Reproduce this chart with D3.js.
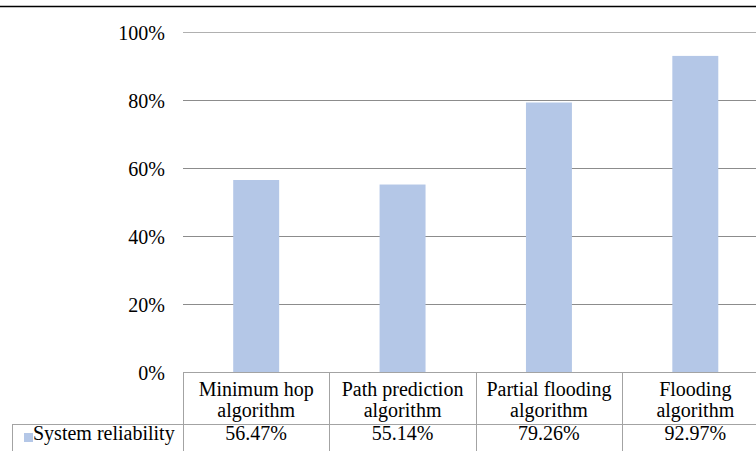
<!DOCTYPE html>
<html>
<head>
<meta charset="utf-8">
<script src="https://cdn.jsdelivr.net/npm/d3@7"></script>
<style>
  html, body { margin: 0; padding: 0; background: #fff; }
  svg { display: block; }
  svg text { font-family: 'Liberation Serif', Tinos, 'Times New Roman', Times, 'DejaVu Serif', serif !important; fill: #000; }
</style>
</head>
<body>
<script>
// Reliability of each routing algorithm
const categories = [
  ["Minimum hop", "algorithm"],
  ["Path prediction", "algorithm"],
  ["Partial flooding", "algorithm"],
  ["Flooding", "algorithm"]
];
const seriesName = "System reliability";
const reliability = [56.47, 55.14, 79.26, 92.97];
const valueLabels = ["56.47%", "55.14%", "79.26%", "92.97%"];
const yTicks = [0, 20, 40, 60, 80, 100];

const W = 756, H = 451;
const plot = { left: 183, right: 768.5, top: 32, bottom: 372 };
const rowSplit = 424;
const barColor = "#b4c7e7";
const FONT = "'Liberation Serif', Tinos, 'Times New Roman', Times, serif";
const FS = 20;

const svg = d3.select("body").append("svg")
  .attr("width", W).attr("height", H)
  .style("font-family", FONT);

const keys = categories.map((c, i) => i);
const pad = 0.686;
const x = d3.scaleBand()
  .domain(keys)
  .range([plot.left, plot.right])
  .paddingInner(pad)
  .paddingOuter(pad / 2);
const step = x.step();

const y = d3.scaleLinear().domain([0, 100]).range([plot.bottom, plot.top]);

// top rule
svg.append("line")
  .attr("x1", 0).attr("x2", W)
  .attr("y1", 6.5).attr("y2", 6.5)
  .attr("stroke", "#000").attr("stroke-width", 1.5);

// gridlines and y labels via an axis
const yAxis = d3.axisLeft(y)
  .tickValues(yTicks)
  .tickFormat(d => d + "%")
  .tickSize(-(plot.right - plot.left))
  .tickPadding(18);

const gy = svg.append("g")
  .attr("transform", `translate(${plot.left},0)`)
  .call(yAxis)
  .attr("font-family", FONT)
  .attr("font-size", FS);
gy.select(".domain").remove();
gy.selectAll(".tick line")
  .attr("stroke", d => d === 100 ? "#b0b0b0" : "#8c8c8c")
  .attr("stroke-width", d => d === 100 ? 1.5 : 1)
  .attr("shape-rendering", "crispEdges");
gy.selectAll(".tick text")
  .style("font-family", FONT)
  .attr("font-size", FS)
  .attr("fill", "#000")
  .attr("dy", "0.35em");

// bars
svg.append("g").selectAll("rect")
  .data(reliability)
  .join("rect")
  .attr("x", (d, i) => x(i))
  .attr("width", x.bandwidth())
  .attr("y", d => y(d))
  .attr("height", d => y(0) - y(d))
  .attr("fill", barColor);

// data table below the axis
const tableStroke = "#a3a3a3";
const table = svg.append("g").style("font-family", FONT);

// top border over category columns
table.append("line")
  .attr("x1", plot.left).attr("x2", plot.right)
  .attr("y1", plot.bottom + 0.5).attr("y2", plot.bottom + 0.5)
  .attr("stroke", tableStroke);
// row split across legend + columns
table.append("line")
  .attr("x1", 12).attr("x2", plot.right)
  .attr("y1", rowSplit + 0.5).attr("y2", rowSplit + 0.5)
  .attr("stroke", tableStroke);
// left border of legend cell
table.append("line")
  .attr("x1", 12.5).attr("x2", 12.5)
  .attr("y1", rowSplit).attr("y2", H)
  .attr("stroke", tableStroke);
// column dividers
table.selectAll("line.col")
  .data(keys.concat([keys.length]))
  .join("line")
  .attr("class", "col")
  .attr("x1", i => Math.round(plot.left + i * step) + 0.5)
  .attr("x2", i => Math.round(plot.left + i * step) + 0.5)
  .attr("y1", plot.bottom).attr("y2", H)
  .attr("stroke", tableStroke);

// category headers
const heads = table.selectAll("text.cat")
  .data(categories)
  .join("text")
  .attr("class", "cat")
  .attr("text-anchor", "middle")
  .style("font-family", FONT)
  .attr("font-size", FS);
heads.each(function(lines, i) {
  const t = d3.select(this);
  lines.forEach((ln, j) => {
    t.append("tspan")
      .attr("x", x(i) + x.bandwidth() / 2)
      .attr("y", 396 + j * 21)
      .text(ln);
  });
});

// values row
table.selectAll("text.val")
  .data(valueLabels)
  .join("text")
  .attr("class", "val")
  .attr("text-anchor", "middle")
  .style("font-family", FONT)
  .attr("font-size", FS)
  .attr("x", (d, i) => x(i) + x.bandwidth() / 2)
  .attr("y", 440)
  .text(d => d);

// legend key
table.append("rect")
  .attr("x", 24).attr("y", 433)
  .attr("width", 9).attr("height", 9)
  .attr("fill", barColor);
table.append("text")
  .style("font-family", FONT)
  .attr("font-size", FS)
  .attr("x", 33).attr("y", 440)
  .text(seriesName);
</script>
</body>
</html>
